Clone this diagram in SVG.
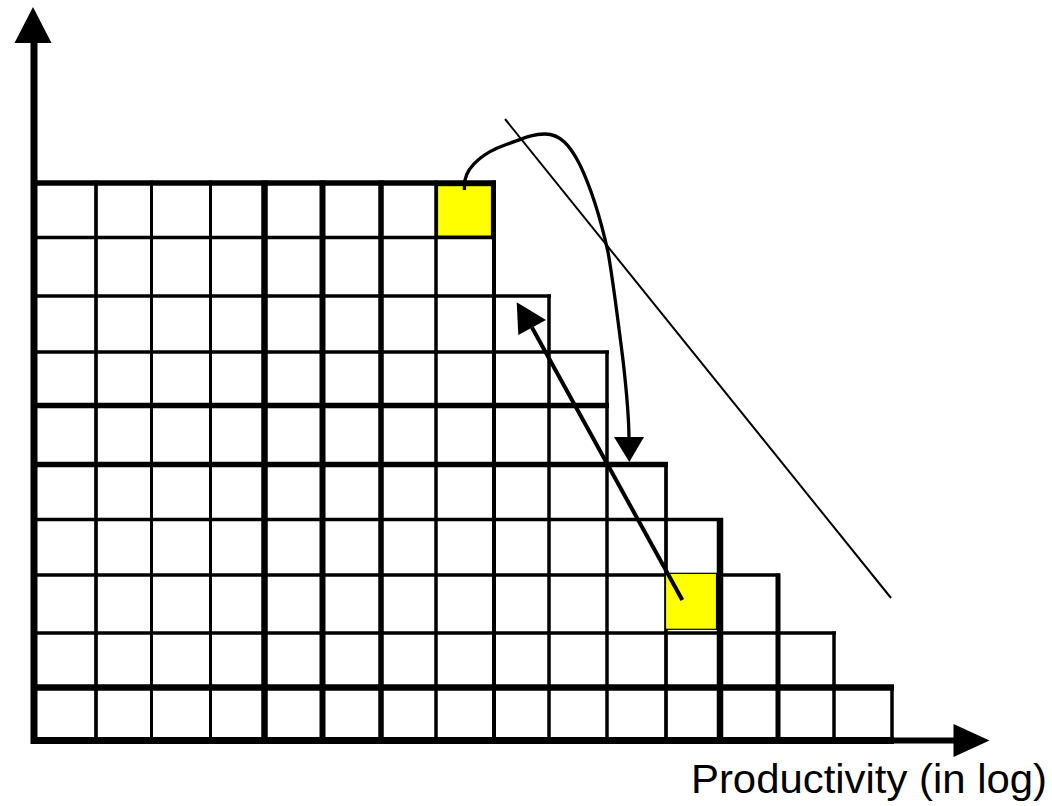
<svg xmlns="http://www.w3.org/2000/svg" width="1052" height="806" viewBox="0 0 1052 806">
  <style>
    .ln { stroke: #000; fill: none; stroke-linecap: butt; }
    .cell { fill: #FFFF00; stroke: #000; stroke-width: 1.2; }
    .lbl { font-family: "Liberation Sans", Arial, sans-serif; font-size: 40px; fill: #000; }
  </style>
  <rect x="0" y="0" width="1052" height="806" fill="#fff"/>

  <g id="grid">
    <!-- horizontal row lines -->
    <line class="ln" x1="31" y1="183" x2="496" y2="183" stroke-width="5.5"/>
    <line class="ln" x1="31" y1="237.5" x2="496" y2="237.5" stroke-width="3.3"/>
    <line class="ln" x1="31" y1="296" x2="551" y2="296" stroke-width="3.5"/>
    <line class="ln" x1="31" y1="352" x2="609" y2="352" stroke-width="3.5"/>
    <line class="ln" x1="31" y1="405.5" x2="609" y2="405.5" stroke-width="5.5"/>
    <line class="ln" x1="31" y1="464.5" x2="668" y2="464.5" stroke-width="5.5"/>
    <line class="ln" x1="31" y1="519.5" x2="723" y2="519.5" stroke-width="3.5"/>
    <line class="ln" x1="31" y1="575" x2="780" y2="575" stroke-width="3.5"/>
    <line class="ln" x1="31" y1="633" x2="836" y2="633" stroke-width="3.5"/>
    <line class="ln" x1="31" y1="687.5" x2="894" y2="687.5" stroke-width="6.5"/>
    <line class="ln" x1="31" y1="740.5" x2="894" y2="740.5" stroke-width="7"/>
    <!-- vertical column lines -->
    <line class="ln" x1="96" y1="180.5" x2="96" y2="744" stroke-width="3.7"/>
    <line class="ln" x1="151.5" y1="180.5" x2="151.5" y2="744" stroke-width="3"/>
    <line class="ln" x1="210.5" y1="180.5" x2="210.5" y2="744" stroke-width="3"/>
    <line class="ln" x1="264.5" y1="180.5" x2="264.5" y2="744" stroke-width="6.5"/>
    <line class="ln" x1="322.5" y1="180.5" x2="322.5" y2="744" stroke-width="6"/>
    <line class="ln" x1="381" y1="180.5" x2="381" y2="744" stroke-width="5.5"/>
    <line class="ln" x1="436" y1="180.5" x2="436" y2="744" stroke-width="3.5"/>
    <line class="ln" x1="494" y1="180.5" x2="494" y2="744" stroke-width="4"/>
    <line class="ln" x1="549" y1="294.5" x2="549" y2="744" stroke-width="3.5"/>
    <line class="ln" x1="607" y1="350.5" x2="607" y2="744" stroke-width="3.5"/>
    <line class="ln" x1="666" y1="462" x2="666" y2="744" stroke-width="3.7"/>
    <line class="ln" x1="720" y1="518" x2="720" y2="744" stroke-width="6.5"/>
    <line class="ln" x1="778" y1="573.5" x2="778" y2="744" stroke-width="5"/>
    <line class="ln" x1="834" y1="631.5" x2="834" y2="744" stroke-width="3.5"/>
    <line class="ln" x1="892" y1="685" x2="892" y2="744" stroke-width="3.5"/>
  </g>

  <g id="axes">
    <line class="ln" x1="34" y1="40" x2="34" y2="744" stroke-width="7"/>
    <polygon points="33,7 51.5,43 14.5,43" fill="#000"/>
    <line class="ln" x1="890" y1="740.5" x2="956" y2="740.5" stroke-width="6"/>
    <polygon points="989.5,740.5 953.5,724 953.5,757" fill="#000"/>
  </g>

  <g id="cell-start">
    <rect class="cell" x="437.5" y="185.6" width="54" height="50.5"/>
  </g>
  <g id="cell-end">
    <rect class="cell" x="665.5" y="573.3" width="51" height="56"/>
  </g>

  <g id="connectors">
    <path class="ln" stroke-width="3.3" stroke-linejoin="round" d="M464.3,190 L465,180 C468,165 485,152 505,145 C520,140 530,134 545,134 C560,134 570,145 580,165 C592,190 602,225 608,252 C613,280 618,320 623,360 C627,395 629,420 629,440"/>
    <polygon points="614,437 644,437 629.3,462" fill="#000"/>
    <line class="ln" x1="682.3" y1="600" x2="532" y2="327.5" stroke-width="4"/>
    <polygon points="516.7,302.3 546,320 518.3,335" fill="#000"/>
    <line class="ln" x1="505" y1="119" x2="891" y2="598" stroke-width="2"/>
  </g>

  <g id="label">
    <text class="lbl" x="691" y="793" textLength="356" lengthAdjust="spacingAndGlyphs">Productivity (in log)</text>
  </g>
</svg>
